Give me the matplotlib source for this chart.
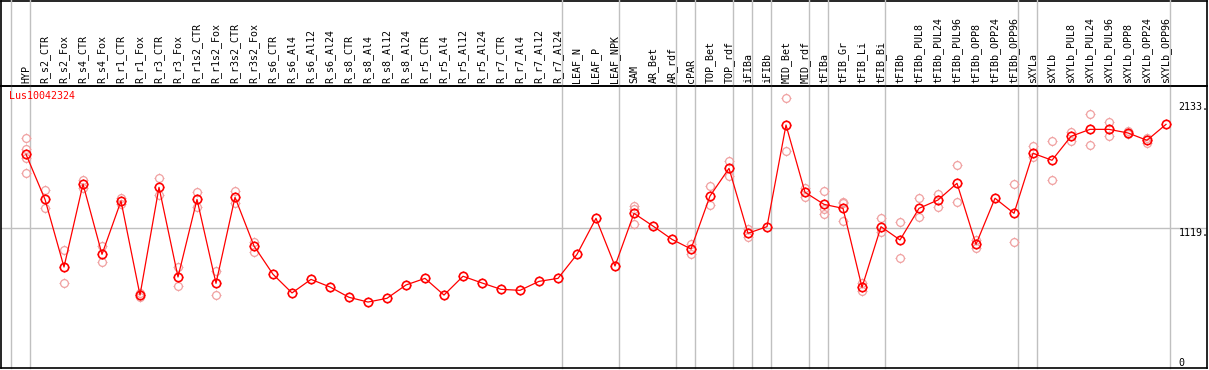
import numpy as np
import matplotlib
matplotlib.use('Agg')
import matplotlib.pyplot as plt
from matplotlib.path import Path

# Sample names along the top
samples = ['HYP', 'R_s2_CTR', 'R_s2_Fox', 'R_s4_CTR', 'R_s4_Fox', 'R_r1_CTR', 'R_r1_Fox',
           'R_r3_CTR', 'R_r3_Fox', 'R_r1s2_CTR', 'R_r1s2_Fox', 'R_r3s2_CTR', 'R_r3s2_Fox',
           'R_s6_CTR', 'R_s6_Al4', 'R_s6_Al12', 'R_s6_Al24', 'R_s8_CTR', 'R_s8_Al4',
           'R_s8_Al12', 'R_s8_Al24', 'R_r5_CTR', 'R_r5_Al4', 'R_r5_Al12', 'R_r5_Al24',
           'R_r7_CTR', 'R_r7_Al4', 'R_r7_Al12', 'R_r7_Al24', 'LEAF_N', 'LEAF_P', 'LEAF_NPK',
           'SAM', 'AR_Bet', 'AR_rdf', 'cPAR', 'TOP_Bet', 'TOP_rdf', 'iFIBa', 'iFIBb',
           'MID_Bet', 'MID_rdf', 'tFIBa', 'tFIB_Gr', 'tFIB_Li', 'tFIB_Bi', 'tFIBb',
           'tFIBb_PUL8', 'tFIBb_PUL24', 'tFIBb_PUL96', 'tFIBb_OPP8', 'tFIBb_OPP24',
           'tFIBb_OPP96', 'sXYLa', 'sXYLb', 'sXYLb_PUL8', 'sXYLb_PUL24', 'sXYLb_PUL96',
           'sXYLb_OPP8', 'sXYLb_OPP24', 'sXYLb_OPP96']

# Mean expression per sample
means = [1713, 1351, 808, 1474, 910, 1338, 583, 1448, 728, 1351, 677, 1368, 977,
         750, 600, 709, 648, 565, 527, 557, 664, 717, 583, 734, 680, 629, 621, 693, 717,
         910, 1199, 816, 1239, 1137, 1030, 953, 1378, 1600, 1079, 1132, 1948, 1408,
         1311, 1279, 645, 1132, 1025, 1279, 1346, 1480, 990, 1360, 1239,
         1721, 1665, 1857, 1913, 1913, 1884, 1825, 1953]

# Individual replicates (empty where they sit under the mean)
replicates = [[1841, 1755, 1685, 1560], [1424, 1279], [945, 677], [1506, 1440], [977, 846],
              [1364, 1314], [597, 570], [1520, 1386], [811, 653], [1410, 1287], [778, 583],
              [1418, 1324], [1011, 931],
              [], [], [], [], [], [], [], [], [], [], [], [], [], [], [], [],
              [], [], [], [1300, 1275, 1151], [], [], [993, 910], [1458, 1303], [1659, 1541],
              [1113, 1051], [], [2162, 1739], [1440, 1372],
              [1421, 1271, 1231], [1332, 1319, 1180], [682, 618], [1199, 1091], [1167, 878],
              [1360, 1207], [1394, 1292], [1624, 1327], [1025, 958], [], [1472, 1006],
              [1779, 1689], [1819, 1506], [1894, 1819], [2034, 1785], [1970, 1862],
              [1873, 1896], [1846, 1806], []]

# Sample-group separators (after these indices)
group_ends = [-1, 0, 28, 31, 34, 35, 37, 38, 39, 41, 42, 45, 52, 53, 60]

ytick_vals = [0, 1119, 2133]
ytick_text = ['0', '1119.', '2133.']
gene = 'Lus10042324'

W, H = 1209, 370
fig = plt.figure(figsize=(W / 100, H / 100), dpi=100)
plt.rcParams['font.family'] = 'DejaVu Sans Mono'
fs = 7.2

# pixel layout
left, right, top, bottom = 1, 1207, 86, 368
hdr = fig.add_axes([left / W, (H - top) / H, (right - left) / W, (top - 0.5) / H])
hdr.set_xticks([])
hdr.set_yticks([])
hdr.patch.set_visible(False)
for s in hdr.spines.values():
    s.set_linewidth(1.2)
ax = fig.add_axes([left / W, (H - bottom) / H, (right - left) / W, (bottom - top) / H])
ax.patch.set_visible(False)

x = np.arange(len(samples))
ax.set_xlim((left - 26) / 19., (right - 26) / 19.)
ax.set_ylim(-2.4, 2261)

for s in ax.spines.values():
    s.set_linewidth(1.2)

# four small ticks round each circle
ticks = Path([(0, 1.0), (0, 1.4), (0, -1.0), (0, -1.4), (1.0, 0), (1.4, 0), (-1.0, 0), (-1.4, 0)],
             [Path.MOVETO, Path.LINETO] * 4)

# separators and reference line
span = bottom / float(bottom - top)
for g in group_ends:
    ax.axvline(g + 0.23, ymin=0, ymax=span, color='#c0c0c0', lw=1.0, clip_on=False, zorder=1)
ax.axhline(1119, color='#c0c0c0', lw=1.0, zorder=1)

# replicates
pale = '#f0a0a0'
for i, reps in enumerate(replicates):
    if reps:
        xi = [i] * len(reps)
        ax.plot(xi, reps, linestyle='None', marker='o', ms=5.6,
                mfc='none', mec=pale, mew=0.9, zorder=2)
        ax.plot(xi, reps, linestyle='None', marker=ticks, ms=7.4,
                mec=pale, mew=0.8, zorder=2)

ax.plot(x, means, color='red', lw=0.9, marker='o', ms=6.0, mfc='none', mec='red',
        mew=1.2, zorder=3)
ax.plot(x, means, linestyle='None', marker=ticks, ms=7.8, mec='red', mew=0.9, zorder=3)

# sample labels on top
ax.set_xticks(x)
ax.set_xticklabels(samples, rotation=90, fontsize=fs)
ax.tick_params(axis='x', top=True, labeltop=True, bottom=False, labelbottom=False,
               length=0, pad=2)

# value labels inside on the right
ax.yaxis.tick_right()
ax.set_yticks(ytick_vals)
ax.set_yticklabels(ytick_text, fontsize=fs)
ax.tick_params(axis='y', length=0, pad=-20.4)
for lab in ax.get_yticklabels():
    lab.set_horizontalalignment('left')
    lab.set_verticalalignment('bottom' if lab.get_text() == '0' else 'top')

ax.text(8 / (right - left), 1 - 5 / float(bottom - top), gene, transform=ax.transAxes,
        color='red', fontsize=fs, ha='left', va='top')

fig.savefig('out.png', dpi=100)
